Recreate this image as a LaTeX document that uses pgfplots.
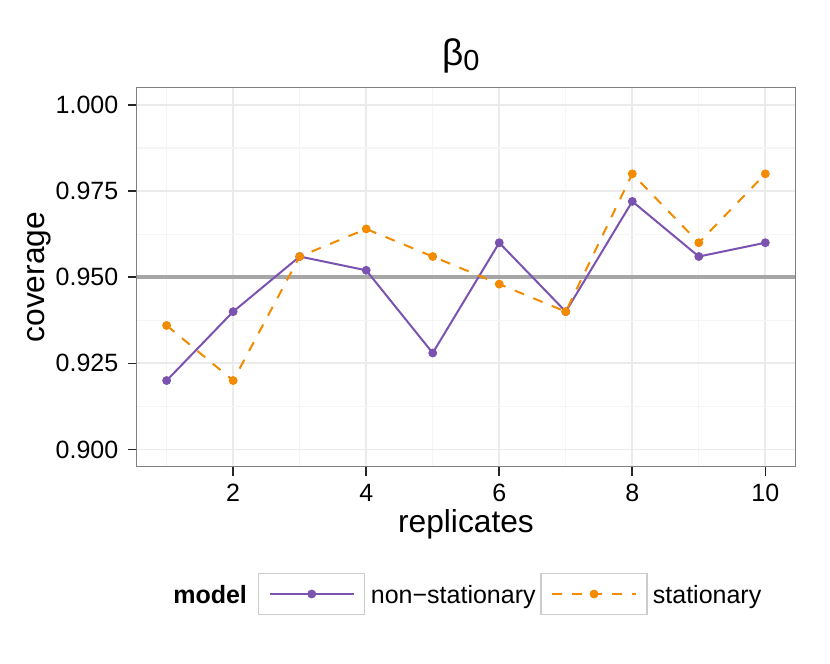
\documentclass[border=0pt]{standalone}
\usepackage{fontspec}
\setmainfont{Liberation Sans}
\usepackage{pgfplots}
\pgfplotsset{compat=1.18}
\definecolor{nsc}{RGB}{122,82,176}
\definecolor{stc}{RGB}{242,139,0}
\begin{document}
\begin{tikzpicture}
\useasboundingbox (0,0) rectangle (415pt,332pt);
\begin{axis}[
  at={(68.35pt,98.65pt)}, anchor=south west,
  scale only axis, width=329.3pt, height=189.5pt,
  xmin=0.55, xmax=10.45, ymin=0.895, ymax=1.005,
  xtick={2,4,6,8,10}, minor xtick={1,3,5,7,9},
  ytick={0.9,0.925,0.95,0.975,1.0}, minor ytick={0.9125,0.9375,0.9625,0.9875},
  grid=both,
  major grid style={draw=black!8, line width=0.9pt},
  minor grid style={draw=black!4, line width=0.6pt},
  axis line style={draw=black!50, line width=0.7pt},
  tick align=outside, major tick length=4.5pt, minor tick length=0pt,
  tick style={draw=black!85, line width=0.8pt},
  xtick pos=left, ytick pos=left,
  scaled y ticks=false,
  /pgf/number format/assume math mode=true,
  y tick label style={/pgf/number format/fixed, /pgf/number format/fixed zerofill, /pgf/number format/precision=3},
  tick label style={font=\fontsize{12.5}{14}\selectfont},
  xticklabel style={anchor=north, inner sep=0pt, yshift=-4.15pt},
  yticklabel style={anchor=east, inner sep=0pt, xshift=-4.5pt},
  xlabel={replicates}, ylabel={coverage},
  xlabel style={at={(0.5,-0.1741)}, anchor=base, inner sep=0pt, font=\fontsize{15.86}{18}\selectfont},
  ylabel style={at={(-0.1398,0.5)}, anchor=base, inner sep=0pt, font=\fontsize{15.86}{18}\selectfont},
  title={\fontsize{18.5}{20}\selectfont β\raisebox{-2.5pt}{\fontsize{14.5}{16}\selectfont 0}},
  title style={at={(0.492,1.0256)}, anchor=base, inner sep=0pt},
  legend style={at={(0.0556,-0.3359)}, anchor=west, draw=none, fill=none, inner sep=0pt, outer sep=0pt,
    column sep=0pt, font=\fontsize{12.5}{14}\selectfont, cells={anchor=base west},
    nodes={inner sep=0pt, outer sep=0pt}},
  legend columns=-1,
]
\addlegendimage{empty legend}
\addlegendentry{\textbf{model}}

\addplot[forget plot, draw=black!35, line width=2.3pt] coordinates {(0.55,0.95) (10.45,0.95)};

\addplot[nsc, line width=1pt, mark=*, mark size=2pt, mark options={solid, line width=0.4pt},
  legend image code/.code={
    \path (0pt,0pt) (61pt,0pt);
    \draw[draw=black!20, line width=0.8pt, solid, fill=white] (5.35pt,-5.55pt) rectangle (58.35pt,14.85pt);
    \draw[mark repeat=2, mark phase=2] plot coordinates {(11pt,4.65pt) (31.9pt,4.65pt) (52.85pt,4.65pt)};
  }] coordinates {
(1,0.920) (2,0.940) (3,0.956) (4,0.952) (5,0.928) (6,0.960) (7,0.940) (8,0.972) (9,0.956) (10,0.960)
};
\addlegendentry{non−stationary}

\addplot[stc, line width=1pt, dash pattern=on 5pt off 5pt, mark=*, mark size=2pt, mark options={solid, line width=0.4pt},
  legend image code/.code={
    \path (0pt,0pt) (57.65pt,0pt);
    \draw[draw=black!20, line width=0.8pt, solid, fill=white] (2.15pt,-5.55pt) rectangle (55.15pt,14.85pt);
    \draw[mark repeat=2, mark phase=2] plot coordinates {(7.8pt,4.65pt) (28.7pt,4.65pt) (49.65pt,4.65pt)};
  }] coordinates {
(1,0.936) (2,0.920) (3,0.956) (4,0.964) (5,0.956) (6,0.948) (7,0.940) (8,0.980) (9,0.960) (10,0.980)
};
\addlegendentry{stationary}
\end{axis}
\end{tikzpicture}
\end{document}
